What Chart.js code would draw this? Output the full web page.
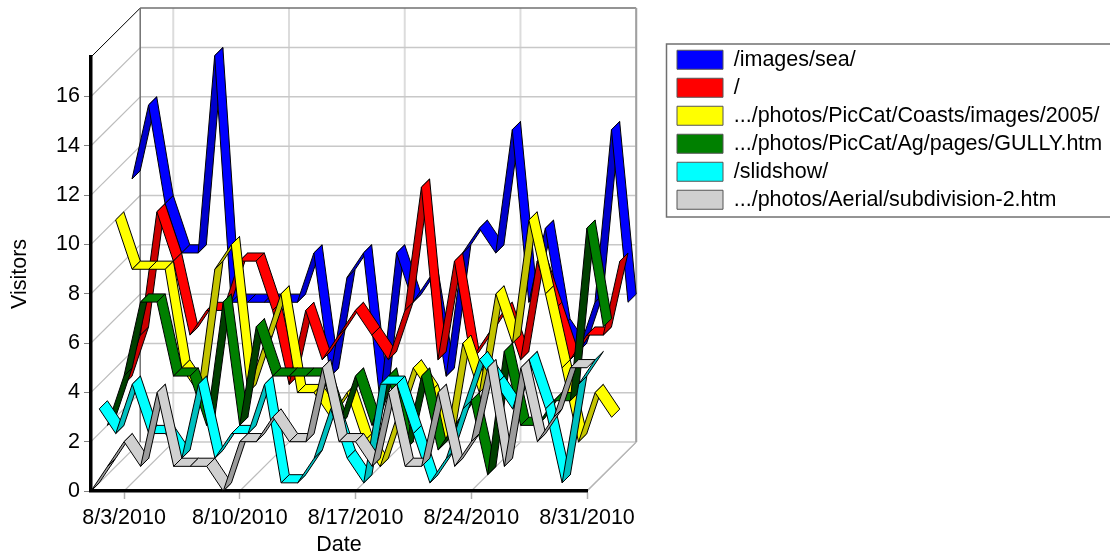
<!DOCTYPE html>
<html>
<head>
<meta charset="utf-8">
<title>Visitors by date</title>
<script src="https://cdn.jsdelivr.net/npm/chart.js@4/dist/chart.umd.js"></script>
<style>
    html, body { margin: 0; padding: 0; background: #fff; overflow: hidden; }
    canvas { display: block; }
</style>
</head>
<body>
<canvas id="visitorsChart" width="1110" height="556"></canvas>
<script>
const dates = [
    '8/1/2010', '8/2/2010', '8/3/2010', '8/4/2010', '8/5/2010', '8/6/2010', '8/7/2010', '8/8/2010',
    '8/9/2010', '8/10/2010', '8/11/2010', '8/12/2010', '8/13/2010', '8/14/2010', '8/15/2010', '8/16/2010',
    '8/17/2010', '8/18/2010', '8/19/2010', '8/20/2010', '8/21/2010', '8/22/2010', '8/23/2010', '8/24/2010',
    '8/25/2010', '8/26/2010', '8/27/2010', '8/28/2010', '8/29/2010', '8/30/2010', '8/31/2010'
];
const tickDates = ['8/3/2010', '8/10/2010', '8/17/2010', '8/24/2010', '8/31/2010'];

const seriesNames = [
    '/images/sea/',
    '/',
    '.../photos/PicCat/Coasts/images/2005/',
    '.../photos/PicCat/Ag/pages/GULLY.htm',
    '/slidshow/',
    '.../photos/Aerial/subdivision-2.htm'
];

// back of the chart first
const seaValues      = [11, 14, 10, 8, 8, 16, 6, 6, 6, 6, 6, 8, 3, 7, 8, 2, 8, 6, 7, 3, 8, 9, 8, 13, 6, 9, 5, 4, 6, 13, 6];
const rootValues     = [3, 5, 10, 8, 5, 6, 6, 8, 8, 6, 3, 6, 4, 5, 6, 5, 4, 6, 11, 4, 8, 4, 5, 6, 4, 8, 6, 4, 5, 5, 8];
const coastsValues   = [10, 8, 8, 8, 4, 3, 8, 9, 3, 5, 7, 3, 3, 2, 3, 1, 0, 2, 4, 3, 1, 5, 3, 7, 5, 10, 7, 4, 1, 3, 2];
const gullyValues    = [2, 4, 7, 7, 4, 4, 2, 7, 2, 6, 4, 4, 4, 4, 2, 4, 2, 4, 1, 4, 1, 2, 3, 0, 5, 2, 2, 3, 3, 10, 6];
const slideValues    = [3, 2, 4, 2, 2, 1, 4, 1, 2, 2, 4, 0, 0, 1, 3, 1, 0, 4, 4, 2, 0, 1, 3, 5, 4, 3, 5, 3, 0, 4, 5];
const aerialValues   = [0, 1, 2, 1, 4, 1, 1, 1, 0, 2, 2, 3, 2, 2, 5, 2, 2, 1, 4, 1, 1, 4, 1, 2, 5, 1, 5, 2, 3, 5, 5];

const allValues = [seaValues, rootValues, coastsValues, gullyValues, slideValues, aerialValues];
const faceColors = ['#0000ff', '#ff0000', '#ffff00', '#008000', '#00ffff', '#d0d0d0'];
const shadeColors = ['#0000cc', '#cc0000', '#c4c400', '#004000', '#00c0c0', '#9c9c9c'];

const DEPTH_X = 8.2;
const DEPTH_Y = 8.15;
const SERIES_COUNT = allValues.length;

function line(ctx, x1, y1, x2, y2, color, width) {
    ctx.strokeStyle = color;
    ctx.lineWidth = width;
    ctx.beginPath();
    ctx.moveTo(x1, y1);
    ctx.lineTo(x2, y2);
    ctx.stroke();
}

// back wall, side wall and floor, all taken from the scales
const wallsPlugin = {
    id: 'walls',
    beforeDraw(chart) {
        const { ctx, chartArea: a, scales } = chart;
        const dx = DEPTH_X * SERIES_COUNT;
        const dy = DEPTH_Y * SERIES_COUNT;
        ctx.save();

        scales.x.ticks.forEach((t, i) => {
            const x = scales.x.getPixelForTick(i);
            line(ctx, x + dx, a.top - dy, x + dx, a.bottom - dy, '#dcdcdc', 2);
            line(ctx, x, a.bottom, x + dx, a.bottom - dy, '#bcbcbc', 1.2);
        });
        scales.y.ticks.forEach((t, i) => {
            const y = scales.y.getPixelForTick(i);
            line(ctx, a.left, y, a.left + dx, y - dy, '#bcbcbc', 1.2);
            line(ctx, a.left + dx, y - dy, a.right + dx, y - dy, '#c8c8c8', 1.5);
        });

        line(ctx, a.left, a.top, a.left + dx, a.top - dy, '#000', 1);
        line(ctx, a.left + dx, a.top - dy, a.right + dx, a.top - dy, '#707070', 1.5);
        line(ctx, a.left + dx, a.top - dy, a.left + dx, a.bottom - dy, '#707070', 1.5);
        line(ctx, a.right + dx, a.top - dy, a.right + dx, a.bottom - dy, '#a0a0a0', 2);
        line(ctx, a.right, a.bottom, a.right + dx, a.bottom - dy, '#b4b4b4', 1.2);

        // legend frame runs off the right edge
        ctx.fillStyle = '#fff';
        ctx.strokeStyle = '#707070';
        ctx.lineWidth = 1.5;
        ctx.fillRect(666.5, 44, 450, 173);
        ctx.strokeRect(666.5, 44, 450, 173);
        ctx.restore();
    }
};

const ribbonPlugin = {
    id: 'ribbons',
    afterLayout(chart) {
        const lg = chart.legend;
        lg.left = 670.5;
        lg.top = 42.5;
        lg.right = 1110;
        lg.bottom = 260;
    },
    afterDatasetsDraw(chart) {
        const { ctx } = chart;
        ctx.save();
        ctx.lineJoin = 'round';
        ctx.lineWidth = 1;
        ctx.strokeStyle = '#000';
        chart.data.datasets.forEach((ds, s) => {
            const pts = chart.getDatasetMeta(s).data;
            const k = SERIES_COUNT - 1 - s;
            const ox = DEPTH_X * k, oy = DEPTH_Y * k;
            for (let i = 0; i < pts.length - 1; i++) {
                const p = pts[i], q = pts[i + 1];
                ctx.beginPath();
                ctx.moveTo(p.x + ox, p.y - oy);
                ctx.lineTo(q.x + ox, q.y - oy);
                ctx.lineTo(q.x + ox + DEPTH_X, q.y - oy - DEPTH_Y);
                ctx.lineTo(p.x + ox + DEPTH_X, p.y - oy - DEPTH_Y);
                ctx.closePath();
                ctx.fillStyle = q.y < p.y ? shadeColors[s] : faceColors[s];
                ctx.fill();
                ctx.stroke();
            }
        });
        ctx.restore();
    }
};

const FONT = { family: '"Liberation Sans", Arial, sans-serif', size: 21.5 };

new Chart(document.getElementById('visitorsChart'), {
    type: 'line',
    data: {
        labels: dates,
        datasets: seriesNames.map((name, s) => ({
            label: name,
            data: allValues[s],
            showLine: false,
            pointRadius: 0,
            backgroundColor: faceColors[s],
            borderColor: '#555',
            borderWidth: 1
        }))
    },
    plugins: [wallsPlugin, ribbonPlugin],
    options: {
        responsive: false,
        animation: false,
        events: [],
        layout: { padding: { left: 0, top: 57, right: 523, bottom: 0 } },
        plugins: {
            tooltip: { enabled: false },
            legend: {
                position: 'chartArea',
                align: 'start',
                labels: { boxWidth: 46, boxHeight: 19, padding: 6.5, color: '#000', font: FONT }
            }
        },
        scales: {
            x: {
                offset: false,
                afterBuildTicks(scale) {
                    scale.ticks = scale.ticks.filter(t => tickDates.includes(dates[t.value]));
                },
                afterFit(scale) { scale.height = 65; },
                grid: { drawOnChartArea: false, tickLength: 8, tickColor: '#b0b0b0', tickWidth: 1.5 },
                border: { color: '#000', width: 3.5 },
                ticks: { autoSkip: false, maxRotation: 0, minRotation: 0, color: '#000', font: FONT, padding: 6 },
                title: { display: true, text: 'Date', color: '#000', font: FONT, padding: { top: 0, bottom: -2 } }
            },
            y: {
                min: 0,
                max: 17.6,
                afterFit(scale) { scale.width = 91; },
                grid: { drawOnChartArea: false, tickLength: 7, tickColor: '#808080', tickWidth: 1 },
                border: { color: '#000', width: 3.5 },
                ticks: { stepSize: 2, includeBounds: false, color: '#000', font: FONT, padding: 4 },
                title: { display: true, text: 'Visitors', color: '#000', font: FONT, padding: { top: 7, bottom: 0 } }
            }
        }
    }
});
</script>
</body>
</html>
